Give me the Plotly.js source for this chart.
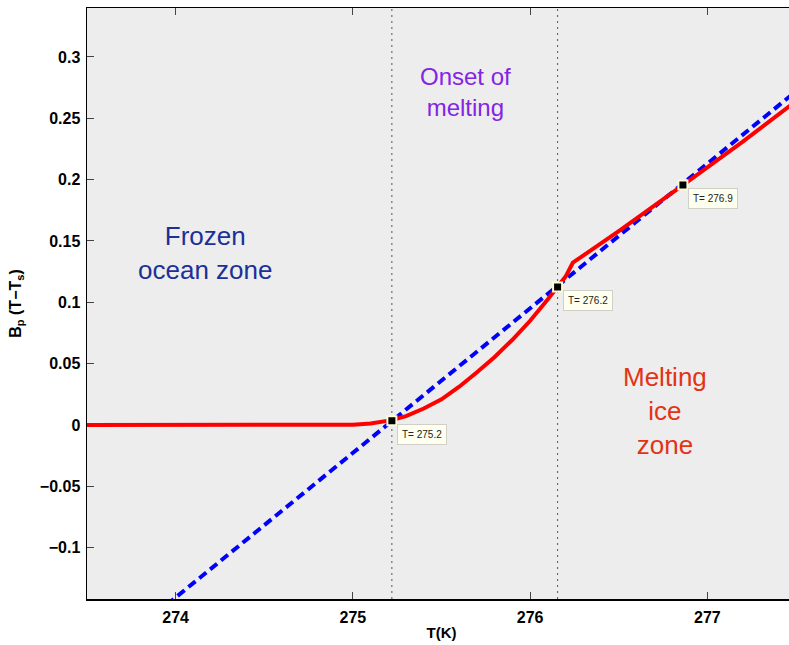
<!DOCTYPE html>
<html>
<head>
<meta charset="utf-8">
<script src="https://cdn.plot.ly/plotly-3.0.1.min.js"></script>
<style>
  html, body { margin: 0; padding: 0; overflow: hidden; background: #ffffff; }
  #chart { width: 800px; height: 645px; }
</style>
</head>
<body>
<div id="chart"></div>
<script>
// Temperature grid (K) and the melting-adjusted flux term B_p (T - T_s)
const meltT = [273.5, 274.5, 274.9, 275.0, 275.1, 275.22, 275.3, 275.4, 275.5, 275.6,
               275.7, 275.8, 275.9, 276.0, 276.1, 276.155, 276.2, 276.241, 276.5, 276.862,
               277.2, 277.5];
const meltB = [0, 0, 0, 0.0002, 0.0012, 0.0040, 0.0072, 0.0135, 0.0210, 0.0312,
               0.0430, 0.0555, 0.0695, 0.0850, 0.1025, 0.1120, 0.1210, 0.1323, 0.1580, 0.1956,
               0.2310, 0.2640];

// Linear reference B_p (T - T_s)
const linT = [273.95, 277.5];
const linB = [-0.1465, 0.2720];

// Data tips
const tipT = [275.22, 276.155, 276.862];
const tipB = [0.0035, 0.1125, 0.1956];

// Zone boundaries
const boundaryT = [tipT[0], tipT[1]];

// Axis ticks
const xTickVals = [274, 275, 276, 277];
const xTickText = ['274', '275', '276', '277'];
const yTickVals = [-0.1, -0.05, 0, 0.05, 0.1, 0.15, 0.2, 0.25, 0.3];
const yTickText = ['\u22120.1', '\u22120.05', '0', '0.05', '0.1', '0.15', '0.2', '0.25', '0.3'];

// Zone labels
const zoneText = ['Frozen<br>ocean zone', 'Onset of<br>melting', 'Melting<br>ice<br>zone'];
const zoneT = [274.166, 275.638, 276.761];
const zoneB = [0.1400, 0.2715, 0.0114];
const zoneColor = ['#1c3098', '#8424e6', '#e23414'];
const zoneSize = [26, 24, 26];

const FONT = 'Liberation Sans, Arial, Helvetica, sans-serif';

const traces = [
  {
    x: linT, y: linB, type: 'scatter', mode: 'lines',
    line: { color: '#0000ff', width: 4, dash: '9px,5px' },
    hoverinfo: 'skip'
  },
  {
    x: meltT, y: meltB, type: 'scatter', mode: 'lines',
    line: { color: '#ff0000', width: 4 },
    hoverinfo: 'skip'
  },
  {
    x: tipT, y: tipB, type: 'scatter', mode: 'markers',
    marker: { symbol: 'square', size: 9, color: '#000000', line: { color: '#fcfcd2', width: 2 } },
    hoverinfo: 'skip'
  }
];

const shapes = boundaryT.map(t => ({
  type: 'line', xref: 'x', yref: 'paper', x0: t, x1: t, y0: 0, y1: 1,
  line: { color: '#555555', width: 1, dash: '2px,4px' }, layer: 'below'
}));

const annotations = [];
tipT.forEach((t, i) => {
  annotations.push({
    x: t, y: tipB[i], xref: 'x', yref: 'y',
    text: 'T= ' + t.toFixed(1), showarrow: false,
    xanchor: 'left', yanchor: 'top', xshift: 5, yshift: -3,
    font: { family: FONT, size: 10, color: '#222222' },
    bgcolor: '#fffff0', bordercolor: '#d0d0c8', borderwidth: 1, borderpad: 4
  });
});
zoneText.forEach((s, i) => {
  annotations.push({
    x: zoneT[i], y: zoneB[i], xref: 'x', yref: 'y',
    text: s, showarrow: false, align: 'center',
    xanchor: 'center', yanchor: 'middle',
    font: { family: FONT, size: zoneSize[i], color: zoneColor[i] }
  });
});

const axisCommon = {
  showline: true, linecolor: '#000000', linewidth: 1.5, mirror: 'ticks',
  ticks: 'inside', ticklen: 7, tickwidth: 1, tickcolor: '#444444',
  showgrid: false, zeroline: false, automargin: false,
  tickfont: { family: FONT, size: 16, color: '#000000', weight: 'bold' }
};

const layout = {
  width: 800, height: 645,
  margin: { l: 87, r: 4, t: 8, b: 46 },
  paper_bgcolor: '#ffffff',
  plot_bgcolor: '#ededed',
  showlegend: false,
  xaxis: Object.assign({}, axisCommon, {
    range: [273.5, 277.5],
    tickmode: 'array', tickvals: xTickVals, ticktext: xTickText,
    ticklabelstandoff: 3,
    title: { text: 'T(K)', standoff: 3, font: { family: FONT, size: 15, color: '#000000', weight: 'bold' } }
  }),
  yaxis: Object.assign({}, axisCommon, {
    range: [-0.1418, 0.3399],
    tickmode: 'array', tickvals: yTickVals, ticktext: yTickText,
    ticklabelstandoff: 2,
    title: { text: 'B<sub>p</sub> (T\u2212T<sub>s</sub>)', standoff: 14, font: { family: FONT, size: 16, color: '#000000', weight: 'bold' } }
  }),
  shapes: shapes,
  annotations: annotations
};

Plotly.newPlot('chart', traces, layout, { staticPlot: true, displayModeBar: false });
</script>
</body>
</html>
